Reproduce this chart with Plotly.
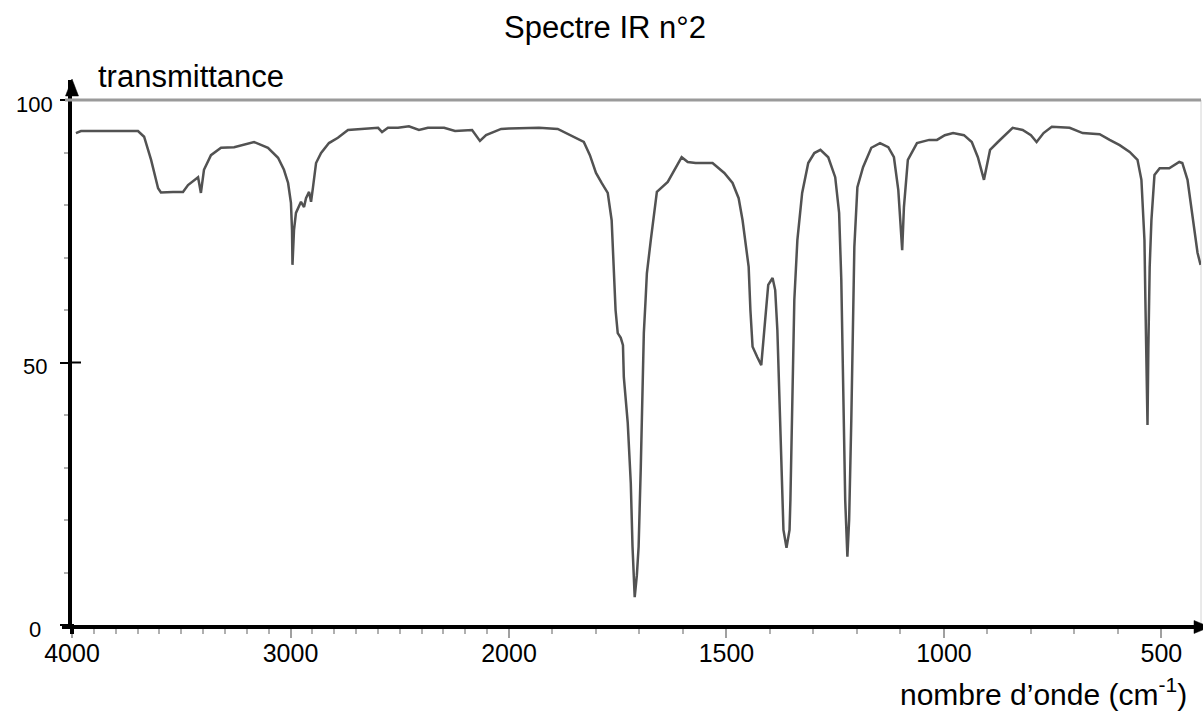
import plotly.graph_objects as go

# ---------------- data ----------------
wavenumber = [
    3982, 3959, 3821, 3698, 3670, 3638, 3606, 3593, 3538, 3492,
    3469, 3432, 3423, 3410, 3396, 3364, 3318, 3258, 3167, 3103,
    3057, 3030, 3011, 2998, 2993, 2991, 2984, 2975, 2966, 2952,
    2938, 2929, 2915, 2906, 2897, 2883, 2860, 2824, 2783, 2737,
    2599, 2581, 2554, 2508, 2458, 2412, 2371, 2297, 2247, 2169,
    2133, 2105, 2036,
    1931, 1888, 1853, 1828, 1814, 1800, 1787, 1773, 1764, 1759,
    1755, 1750, 1743, 1738, 1736, 1727, 1720, 1716, 1711, 1706,
    1702, 1697, 1693, 1690, 1686, 1683, 1674, 1660, 1635, 1617,
    1603, 1589, 1571, 1532, 1505, 1486, 1472, 1463, 1449, 1445,
    1440, 1429, 1420, 1413, 1408, 1404, 1394, 1388, 1383, 1378,
    1374, 1369, 1362, 1355, 1353, 1349, 1344, 1337, 1326, 1312,
    1298, 1284, 1266, 1250, 1241, 1236, 1232, 1227, 1222, 1218,
    1213, 1209, 1206, 1199, 1186, 1167, 1147, 1128, 1115, 1105,
    1096, 1092, 1083, 1062, 1034, 1016, 998, 979, 954, 936,
    922, 908, 894, 876, 855, 842, 819, 800, 787, 771,
    752, 711, 681, 642, 619, 596, 573, 555, 546, 543,
    539, 537, 534, 532, 530, 527, 523, 516, 504, 482,
    459, 452, 440, 429, 417, 410,
]
transmittance = [
    93.7, 94.1, 94.1, 94.1, 93.0, 88.6, 83.2, 82.4, 82.5, 82.5,
    83.8, 85.1, 85.3, 82.3, 86.7, 89.5, 90.9, 91.0, 92.0, 90.9,
    89.0, 86.7, 84.2, 80.4, 75.2, 68.6, 75.2, 78.5, 79.4, 80.6,
    79.6, 81.3, 82.5, 80.6, 83.4, 88.0, 89.9, 91.8, 92.8, 94.3,
    94.7, 93.9, 94.7, 94.7, 95.0, 94.3, 94.7, 94.7, 94.1, 94.3,
    92.2, 93.3, 94.5,
    94.7, 94.5, 93.0, 92.0, 89.5, 86.1, 84.2, 82.3, 77.1, 69.0,
    60.0, 55.6, 54.7, 53.3, 47.2, 38.5, 27.0, 14.9, 5.3, 9.5,
    14.9, 30.1, 44.8, 55.6, 61.9, 67.0, 73.3, 82.5, 84.4, 87.2,
    89.1, 88.2, 88.0, 88.0, 86.1, 84.2, 81.3, 77.1, 68.2, 60.0,
    53.0, 51.0, 49.5, 56.2, 61.9, 64.8, 66.1, 63.8, 56.2, 42.9,
    29.5, 18.1, 14.7, 18.1, 23.8, 42.9, 61.9, 73.3, 82.3, 88.0,
    89.9, 90.5, 89.1, 85.3, 78.5, 65.7, 42.9, 23.8, 13.0, 20.0,
    39.0, 61.9, 72.0, 83.4, 87.2, 90.9, 91.8, 91.0, 89.1, 82.9,
    71.4, 79.6, 88.6, 91.8, 92.4, 92.4, 93.3, 93.7, 93.3, 92.0,
    89.1, 84.8, 90.5, 92.0, 93.7, 94.7, 94.3, 93.3, 92.0, 93.7,
    94.9, 94.7, 93.7, 93.5, 92.4, 91.4, 90.1, 88.6, 84.8, 78.5,
    73.3, 62.5, 46.7, 38.1, 53.0, 68.2, 77.1, 85.7, 87.0, 87.0,
    88.2, 88.0, 84.8, 78.5, 70.9, 68.6,
]

y_ticks = [0, 50, 100]
y_tick_labels = ["0", "50", "100"]
x_ticks_high = [4000, 3000]            # 4000 -> 2000 part (compressed scale)
x_ticks_low = [2000, 1500, 1000, 500]  # 2000 -> 400 part (expanded scale)
x_range_high = [4000, 2000]
x_range_low = [2000, 409]

title_text = "Spectre IR n°2"
y_title = "transmittance"
x_title = "nombre d’onde (cm<sup>-1</sup>)"

# ---------------- layout geometry ----------------
W, H = 1203, 716
ML, MR, MT, MB = 72, 2, 80, 91
PW = W - ML - MR
PH = H - MT - MB
split_frac = 437 / PW            # 4000-2000 takes 437 px, 2000-400 the rest
y_top = 100 * PH / 525           # 100 % sits 525 px above 0 %

FONT = "Liberation Sans, Arial, sans-serif"
LINE_COLOR = "#525252"


def px_x(px):
    return (px - ML) / PW


def px_y(py):
    return (H - MB - py) / PH


# split data into the two scale regions (with one overlap point each, clipped)
n = len(wavenumber)
hi_idx = [i for i in range(n) if wavenumber[i] >= 2000]
lo_idx = [i for i in range(n) if wavenumber[i] <= 2000]
hi_idx = hi_idx + [hi_idx[-1] + 1]
lo_idx = [lo_idx[0] - 1] + lo_idx

fig = go.Figure()
fig.add_trace(go.Scatter(
    x=[wavenumber[i] for i in hi_idx], y=[transmittance[i] for i in hi_idx],
    xaxis="x", yaxis="y", mode="lines",
    line=dict(color=LINE_COLOR, width=2.5), hoverinfo="skip", showlegend=False))
fig.add_trace(go.Scatter(
    x=[wavenumber[i] for i in lo_idx], y=[transmittance[i] for i in lo_idx],
    xaxis="x2", yaxis="y", mode="lines",
    line=dict(color=LINE_COLOR, width=2.5), hoverinfo="skip", showlegend=False))

xcommon = dict(
    anchor="y", showline=True, linecolor="black", linewidth=4, automargin=False,
    ticks="outside", ticklen=9, tickwidth=2, tickcolor="#a0a0a0",
    showgrid=False, zeroline=False, ticklabelstandoff=-6,
    tickfont=dict(family=FONT, size=25, color="black"),
    minor=dict(ticks="outside", tickmode="linear", tick0=0, dtick=100,
               ticklen=5, tickwidth=2, tickcolor="#b0b0b0"),
)

fig.update_layout(
    width=W, height=H,
    margin=dict(l=ML, r=MR, t=MT, b=MB, autoexpand=False),
    paper_bgcolor="white", plot_bgcolor="white",
    showlegend=False,
    xaxis=dict(domain=[0, split_frac], range=x_range_high,
               tickmode="array", tickvals=x_ticks_high,
               ticktext=[str(v) for v in x_ticks_high], **xcommon),
    xaxis2=dict(domain=[split_frac, 1], range=x_range_low,
                tickmode="array", tickvals=x_ticks_low,
                ticktext=[str(v) for v in x_ticks_low], **xcommon),
    yaxis=dict(domain=[0, 1], range=[0, y_top], anchor="x", automargin=False,
               showline=True, linecolor="black", linewidth=4,
               ticks="outside", tickmode="array", tickvals=y_ticks,
               ticklen=8, tickwidth=2, tickcolor="black",
               showticklabels=False, showgrid=False, zeroline=False,
               minor=dict(ticks="outside", tickmode="linear", tick0=0, dtick=10,
                          ticklen=4, tickwidth=2, tickcolor="#b0b0b0")),
)

shapes = []
# 100 % reference line
shapes.append(dict(type="line", xref="paper", yref="y", x0=px_x(65), x1=1,
                   y0=100, y1=100, line=dict(color="#9a9a9a", width=3), layer="above"))
# light right frame line
shapes.append(dict(type="line", xref="paper", yref="y", x0=1, x1=1, y0=0, y1=100,
                   line=dict(color="#d4d4d4", width=1), layer="below"))
# 50 % cross tick (inner part)
shapes.append(dict(type="line", xref="paper", yref="y", x0=px_x(70), x1=px_x(81),
                   y0=50, y1=50, line=dict(color="black", width=2), layer="above"))
# axes extending past the origin
shapes.append(dict(type="line", xref="paper", yref="paper", x0=px_x(62), x1=px_x(74),
                   y0=px_y(627), y1=px_y(627), line=dict(color="black", width=4), layer="above"))
shapes.append(dict(type="line", xref="paper", yref="paper", x0=px_x(72), x1=px_x(72),
                   y0=px_y(624), y1=px_y(634), line=dict(color="black", width=4), layer="above"))
# arrow heads (filled triangles)
shapes.append(dict(type="path", xref="paper", yref="paper",
                   path=f"M {px_x(72)} {px_y(79)} L {px_x(65.5)} {px_y(96)} "
                        f"L {px_x(78.5)} {px_y(96)} Z",
                   fillcolor="black", line=dict(color="black", width=0.5), layer="above"))
shapes.append(dict(type="path", xref="paper", yref="paper",
                   path=f"M {px_x(1210)} {px_y(627)} L {px_x(1194)} {px_y(620.5)} "
                        f"L {px_x(1194)} {px_y(633.5)} Z",
                   fillcolor="black", line=dict(color="black", width=0.5), layer="above"))
fig.update_layout(shapes=shapes)

ann = []
# y tick labels (centred, as in the reference)
for v, lab in zip(y_ticks, y_tick_labels):
    ann.append(dict(xref="paper", yref="y", x=px_x(34.5), y=v, text=lab,
                    showarrow=False, xanchor="center", yanchor="middle", yshift=-4,
                    font=dict(family=FONT, size=22, color="black")))
# titles
ann.append(dict(xref="paper", yref="paper", x=px_x(605), y=px_y(27),
                text=title_text, showarrow=False, xanchor="center", yanchor="middle",
                font=dict(family=FONT, size=31, color="black")))
ann.append(dict(xref="paper", yref="paper", x=px_x(96), y=px_y(76),
                text=y_title, showarrow=False, xanchor="left", yanchor="middle",
                font=dict(family=FONT, size=31, color="black")))
ann.append(dict(xref="paper", yref="paper", x=px_x(1189), y=px_y(692),
                text=x_title, showarrow=False, xanchor="right", yanchor="middle",
                font=dict(family=FONT, size=30, color="black")))
fig.update_layout(annotations=ann)

# remove the browser's default 8px page margin so the figure sits at (0, 0)
fig.write_html("out.html", config={"displayModeBar": False},
               post_script="document.body.style.margin='0px';")
